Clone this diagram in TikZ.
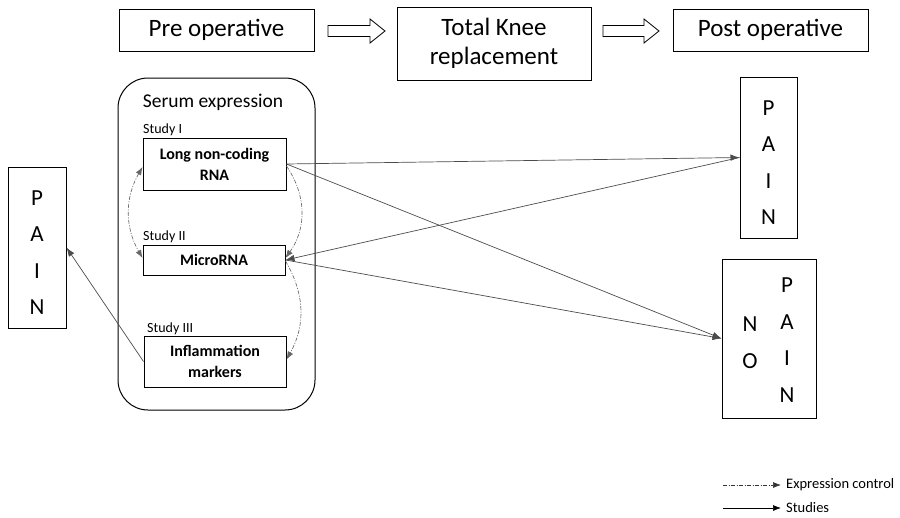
\documentclass[tikz,border=0pt]{standalone}
\usepackage{fontspec}
\setmainfont{Carlito}
\usetikzlibrary{arrows.meta}
\begin{document}
\begin{tikzpicture}[x=1pt,y=-1pt,
  box/.style={draw, line width=1pt, inner sep=0pt, align=center},
  letters/.style={inner sep=0pt, align=center, font=\fontsize{23}{36.5}\selectfont},
  studyline/.style={draw=black!70, line width=0.7pt, -{Latex[length=9pt,width=6.5pt]}},
  ctrl/.style={draw=black!60, line width=0.65pt, dash pattern=on 4pt off 1.5pt on 1pt off 1.5pt},
  ctip/.style={-{Latex[length=8pt,width=6pt]}},
  hollow/.style={draw, line width=0.8pt, line join=miter},
  study/.style={anchor=base west, inner sep=0pt, font=\fontsize{14}{16}\selectfont},
  bold16/.style={font=\fontsize{16}{21}\selectfont\bfseries}
]
\useasboundingbox (0,0) rectangle (900,517);

% top row
\node[box, minimum width=195, minimum height=42, font=\fontsize{25}{30}\selectfont] (pre) at (216.5,30) {Pre operative};
\node[box, minimum width=194, minimum height=73, font=\fontsize{25}{29}\selectfont] (tkr) at (494,43.5) {Total Knee\\replacement};
\node[box, minimum width=195, minimum height=42, font=\fontsize{25}{30}\selectfont] (post) at (770.5,30) {Post operative};
\coordinate (h1) at (328,31);
\coordinate (h2) at (603,31);
\draw[hollow] (h1) ++(0,-5.5) -- ++(42,0) -- ++(0,-6.5) -- ++(15,12) -- ++(-15,12) -- ++(0,-6.5) -- ++(-42,0) -- cycle;
\draw[hollow] (h2) ++(0,-5.5) -- ++(41,0) -- ++(0,-6.5) -- ++(15,12) -- ++(-15,12) -- ++(0,-6.5) -- ++(-41,0) -- cycle;

% serum container
\node[box, rounded corners=30, minimum width=197, minimum height=332] (serum) at (216.5,244) {};
\node[inner sep=0pt, font=\fontsize{19.5}{22}\selectfont] (serumlbl) at (213,102) {Serum expression};

% studies
\node[study] (s1) at (143,133) {Study I};
\node[box, bold16, minimum width=143, minimum height=52] (lnc) at (214.5,164) {Long non-coding\\RNA};
\node[study] (s2) at (143,240) {Study II};
\node[box, bold16, minimum width=142, minimum height=30] (micro) at (214,260) {MicroRNA};
\node[study] (s3) at (147,332) {Study III};
\node[box, bold16, minimum width=142, minimum height=51] (infl) at (215,361.5) {Inflammation\\markers};

% pain boxes
\node[box, minimum width=58, minimum height=161] (pain1) at (37,247.5) {};
\node[letters] (pain1t) at ([yshift=-5pt]pain1.center) {P\\A\\I\\N};
\node[box, minimum width=57, minimum height=161] (pain2) at (768.5,157.5) {};
\node[letters] (pain2t) at ([yshift=-5pt]pain2.center) {P\\A\\I\\N};
\node[box, minimum width=94, minimum height=159] (nopain) at (769,338.5) {};
\node[letters] (nopainA) at ([xshift=-19pt,yshift=-4pt]nopain.center) {N\\O};
\node[letters] (nopainB) at ([xshift=18pt,yshift=-1.5pt]nopain.center) {P\\A\\I\\N};

% expression control (dash-dot)
\draw[ctrl, {Latex[length=8pt,width=6pt]}-{Latex[length=8pt,width=6pt]}] ([yshift=-3pt]lnc.west) to[bend right=30] ([yshift=2pt]micro.west);
\draw[ctrl, ctip] ([yshift=-2pt]lnc.east) to[bend left=35] ([yshift=2pt]micro.east);
\draw[ctrl, ctip] ([yshift=-1pt]micro.east) to[bend left=30] ([yshift=2pt]infl.east);

% studies (solid)
\draw[studyline] (lnc.east) -- (pain2.west);
\draw[studyline] (lnc.east) -- (nopain.west);
\draw[studyline] (pain2.west) -- (micro.east);
\draw[studyline] (micro.east) -- (nopain.west);
\draw[studyline] (infl.west) -- (pain1.east);

% legend
\coordinate (lg1s) at (723,485);
\coordinate (lg1e) at (781,485);
\coordinate (lg2s) at (723,508);
\coordinate (lg2e) at (781,508);
\draw[ctrl, draw=black!80, ctip] (lg1s) -- (lg1e);
\draw[draw=black, line width=0.7pt, ctip] (lg2s) -- (lg2e);
\node[anchor=west, inner sep=0pt, font=\fontsize{14.5}{16}\selectfont] (lg1t) at (786,485) {Expression control};
\node[anchor=west, inner sep=0pt, font=\fontsize{14.5}{16}\selectfont] (lg2t) at (786,508) {Studies};
\end{tikzpicture}
\end{document}
